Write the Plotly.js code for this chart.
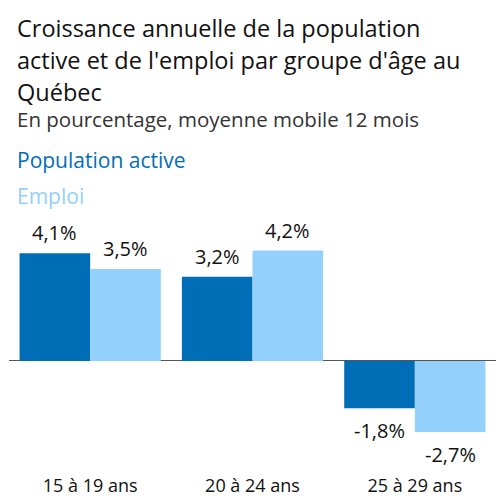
<!DOCTYPE html>
<html>
<head>
<meta charset="utf-8">
<script src="https://cdn.plot.ly/plotly-3.0.1.min.js"></script>
<style>html,body{margin:0;padding:0;background:#fff;}#chart{width:496px;height:500px;}</style>
</head>
<body>
<div id="chart"></div>
<script>
const categories = ["15 à 19 ans", "20 à 24 ans", "25 à 29 ans"];
const populationActive = [4.1, 3.2, -1.8];
const emploi = [3.5, 4.2, -2.7];
const seriesNames = ["Population active", "Emploi"];
const colors = ["#006eb6", "#93d0fc"];
const FONT = "'Open Sans', sans-serif";

function fmt(v) { return v.toFixed(1).replace(".", ",") + "%"; }

const traces = [populationActive, emploi].map((vals, i) => ({
  type: "bar",
  x: categories,
  y: vals,
  name: seriesNames[i],
  marker: {color: colors[i]},
  hoverinfo: "none"
}));

const plotL = 9, plotR = 0, plotT = 230, plotB = 27;
const plotW = 496 - plotL - plotR, plotH = 500 - plotT - plotB;
const bargap = 0.13;
const barW = plotW / categories.length * (1 - bargap) / 2;

function px2paperY(py) { return (500 - plotB - py) / plotH; }
function px2paperX(px) { return (px - plotL) / plotW; }

const annotations = [];
[populationActive, emploi].forEach((vals, i) => {
  vals.forEach((v, j) => {
    annotations.push({
      x: categories[j], y: v, xref: "x", yref: "y",
      xshift: (i === 0 ? -1 : 1) * barW / 2,
      yshift: v >= 0 ? 5 : -7,
      yanchor: v >= 0 ? "bottom" : "top",
      xanchor: "center",
      text: fmt(v), showarrow: false,
      font: {family: FONT, size: 20, color: "#111"}
    });
  });
});

const titleLines = [
  "Croissance annuelle de la population",
  "active et de l'emploi par groupe d'âge au",
  "Québec"
];
titleLines.forEach((t, k) => {
  annotations.push({
    xref: "paper", yref: "paper", x: px2paperX(15), y: px2paperY(10 + k * 32),
    xanchor: "left", yanchor: "top", align: "left", showarrow: false,
    text: t,
    font: {family: FONT, size: 23.5, color: "#111", weight: 500}
  });
});

annotations.push({
  xref: "paper", yref: "paper", x: px2paperX(15), y: px2paperY(103),
  xanchor: "left", yanchor: "top", align: "left", showarrow: false,
  text: "En pourcentage, moyenne mobile 12 mois",
  font: {family: FONT, size: 20.5, color: "#333"}
});
seriesNames.forEach((n, i) => {
  annotations.push({
    xref: "paper", yref: "paper", x: px2paperX(15), y: px2paperY(i === 0 ? 144 : 180),
    xanchor: "left", yanchor: "top", align: "left", showarrow: false,
    text: n,
    font: {family: FONT, size: 21, color: colors[i]}
  });
});

const layout = {
  width: 496, height: 500,
  margin: {l: plotL, r: plotR, t: plotT, b: plotB, pad: 0},
  paper_bgcolor: "#fff", plot_bgcolor: "#fff",
  showlegend: false,
  barmode: "group", bargap: bargap, bargroupgap: 0,
  xaxis: {
    type: "category", range: [-0.5, 2.5], showgrid: false, showline: false,
    ticks: "", tickfont: {family: FONT, size: 18, color: "#111"},
    fixedrange: true
  },
  yaxis: {
    range: [-4.26, 4.98], showgrid: false, showticklabels: false, ticks: "",
    zeroline: true, zerolinecolor: "#555", zerolinewidth: 1, showline: false,
    fixedrange: true
  },
  annotations: annotations
};

Plotly.newPlot("chart", traces, layout, {displayModeBar: false, staticPlot: true});
</script>
</body>
</html>
